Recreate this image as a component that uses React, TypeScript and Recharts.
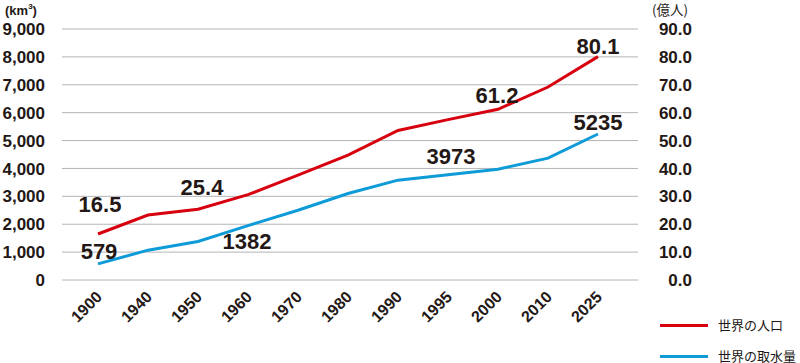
import React from 'react';
import { LineChart, Line, XAxis, YAxis, CartesianGrid, LabelList } from 'recharts';

// categories (x axis)
const years = ['1900', '1940', '1950', '1960', '1970', '1980', '1990', '1995', '2000', '2010', '2025'];
// world population, 億人 (right axis)
const population = [16.5, 23.3, 25.4, 30.6, 37.6, 44.8, 53.6, 57.5, 61.2, 69.2, 80.1];
// world water withdrawal, km3 (left axis)
const water = [579, 1070, 1382, 1950, 2500, 3100, 3580, 3770, 3973, 4370, 5235];
// tick values
const leftTicks = [0, 1000, 2000, 3000, 4000, 5000, 6000, 7000, 8000, 9000];
const rightTicks = [0, 10, 20, 30, 40, 50, 60, 70, 80, 90];

const data = years.map((year, i) => ({ year, population: population[i], water: water[i] }));

const INK = '#231815';
const RED = '#d7000f';
const BLUE = '#0e9bd8';
const NUM_FONT = '"Liberation Sans", Arial, Helvetica, sans-serif';
const JP_FONT = '"Noto Sans CJK JP", sans-serif';

// which points get a value label and where it sits relative to the point
const popLabels: Record<number, [number, number]> = { 0: [2, -29], 2: [4, -22], 8: [-1, -14], 10: [0, -10] };
const waterLabels: Record<number, [number, number]> = { 0: [1, -12], 2: [49, 0], 8: [-47, -13], 10: [0, -12] };

const makeLabel = (offsets: Record<number, [number, number]>) => (props: any) => {
  const { x, y, value, index } = props;
  const off = offsets[index];
  if (!off) return null;
  return (
    <text
      x={x + off[0]}
      y={y + off[1]}
      textAnchor="middle"
      dominantBaseline="central"
      fontFamily={NUM_FONT}
      fontWeight="bold"
      fontSize={22}
      fill={INK}
    >
      {value}
    </text>
  );
};

const XTick = (props: any) => {
  const { x, y, payload } = props;
  return (
    <text
      transform={`translate(${x + 5},${y + 18}) rotate(-45)`}
      textAnchor="end"
      fontFamily={NUM_FONT}
      fontWeight="bold"
      fontSize={16}
      fill={INK}
    >
      {payload.value}
    </text>
  );
};

const LeftTick = (props: any) => {
  const { x, y, payload } = props;
  return (
    <text x={x} y={y} dy="0.36em" textAnchor="end" fontFamily={NUM_FONT} fontWeight="bold" fontSize={17} fill={INK}>
      {payload.value.toLocaleString('en-US')}
    </text>
  );
};

const RightTick = (props: any) => {
  const { x, y, payload } = props;
  return (
    <text x={x + 54} y={y} dy="0.36em" textAnchor="end" fontFamily={NUM_FONT} fontWeight="bold" fontSize={17} fill={INK}>
      {payload.value.toFixed(1)}
    </text>
  );
};

export default function App() {
  return (
    <div style={{ position: 'absolute', left: 0, top: 0, width: 800, height: 363, background: '#fff', overflow: 'hidden' }}>
      <LineChart width={800} height={363} data={data} margin={{ top: 29, right: 0, bottom: 0, left: 0 }}>
        <CartesianGrid yAxisId="left" vertical={false} stroke="#b4b4b4" strokeWidth={1} />
        <XAxis
          dataKey="year"
          height={83}
          padding={{ left: 36, right: 40 }}
          axisLine={false}
          tickLine={false}
          tickSize={0}
          tickMargin={0}
          interval={0}
          tick={<XTick />}
        />
        <YAxis
          yAxisId="left"
          width={62}
          domain={[0, 9000]}
          ticks={leftTicks}
          axisLine={false}
          tickLine={false}
          tickSize={0}
          tickMargin={17}
          tick={<LeftTick />}
        />
        <YAxis
          yAxisId="right"
          orientation="right"
          width={162}
          domain={[0, 90]}
          ticks={rightTicks}
          axisLine={false}
          tickLine={false}
          tickSize={0}
          tickMargin={0}
          tick={<RightTick />}
        />
        <Line
          yAxisId="left"
          type="linear"
          dataKey="water"
          stroke={BLUE}
          strokeWidth={3}
          dot={false}
          isAnimationActive={false}
        >
          <LabelList dataKey="water" content={makeLabel(waterLabels)} />
        </Line>
        <Line
          yAxisId="right"
          type="linear"
          dataKey="population"
          stroke={RED}
          strokeWidth={3}
          dot={false}
          isAnimationActive={false}
        >
          <LabelList dataKey="population" content={makeLabel(popLabels)} />
        </Line>
      </LineChart>

      <div style={{ position: 'absolute', left: 5, top: 3, fontFamily: NUM_FONT, fontWeight: 'bold', fontSize: 13, color: INK }}>
        (km<sup style={{ fontSize: 8, verticalAlign: 'top', lineHeight: 1 }}>3</sup>)
      </div>
      <div style={{ position: 'absolute', left: 652, top: 2, fontFamily: JP_FONT, fontSize: 13.5, lineHeight: '14px', color: INK, whiteSpace: 'nowrap' }}>
        (億人)
      </div>

      <div style={{ position: 'absolute', left: 660, top: 319, fontFamily: JP_FONT, fontSize: 13, lineHeight: '12px', color: INK, whiteSpace: 'nowrap' }}>
        <div style={{ display: 'flex', alignItems: 'center', height: 12 }}>
          <span style={{ display: 'inline-block', width: 48, height: 3, background: RED, marginRight: 10 }} />
          世界の人口
        </div>
        <div style={{ display: 'flex', alignItems: 'center', height: 12, marginTop: 19 }}>
          <span style={{ display: 'inline-block', width: 48, height: 3, background: BLUE, marginRight: 10 }} />
          世界の取水量
        </div>
      </div>
    </div>
  );
}
